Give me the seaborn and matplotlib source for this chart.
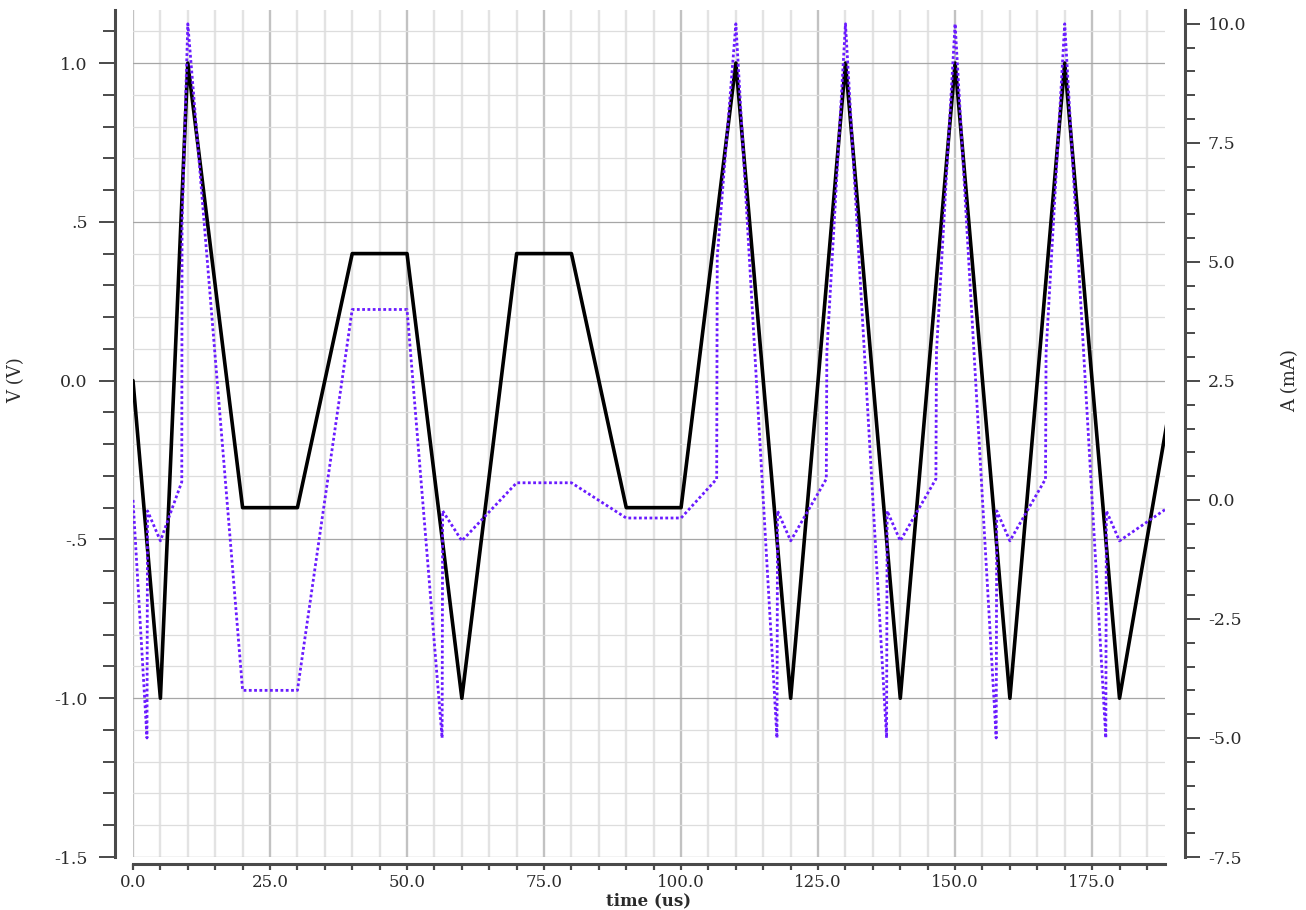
import matplotlib
matplotlib.use("Agg")
import matplotlib.pyplot as plt
from matplotlib.ticker import FixedLocator, FixedFormatter, MultipleLocator
import seaborn as sns

# Applied voltage across the device (V) versus time (us)
time_v = [0, 5, 10, 20, 30, 40, 50, 60, 70, 80, 90, 100,
          110, 120, 130, 140, 150, 160, 170, 180, 190]
volts = [0.0, -1.0, 1.0, -0.4, -0.4, 0.4, 0.4, -1.0, 0.4, 0.4, -0.4, -0.4,
         1.0, -1.0, 1.0, -1.0, 1.0, -1.0, 1.0, -1.0, 0.0]

# Device current (mA) versus time (us)
time_i = [0, 2.55, 2.65, 5, 8.9, 8.95, 10, 20, 30, 40, 50, 56.4, 56.5, 60,
          70, 80, 90, 100, 106.5, 106.6, 110, 117.5, 117.6, 120,
          126.5, 126.6, 130, 137.5, 137.6, 140,
          146.5, 146.6, 150, 157.5, 157.6, 160,
          166.5, 166.6, 170, 177.5, 177.6, 180, 190]
current_ma = [0.0, -5.0, -0.23, -0.86, 0.38, 5.8, 10.0, -4.0, -4.0, 4.0, 4.0, -5.0, -0.23, -0.86,
              0.36, 0.36, -0.38, -0.38, 0.44, 5.1, 10.0, -5.0, -0.23, -0.86,
              0.44, 3.1, 10.0, -5.0, -0.23, -0.86,
              0.44, 3.1, 10.0, -5.0, -0.23, -0.86,
              0.44, 3.1, 10.0, -5.0, -0.23, -0.86, -0.07]

x_ticks = [0, 25, 50, 75, 100, 125, 150, 175]
x_tick_labels = ["0.0", "25.0", "50.0", "75.0", "100.0", "125.0", "150.0", "175.0"]
v_ticks = [1.0, 0.5, 0.0, -0.5, -1.0, -1.5]
v_tick_labels = ["1.0", ".5", "0.0", "-.5", "-1.0", "-1.5"]
i_ticks = [10.0, 7.5, 5.0, 2.5, 0.0, -2.5, -5.0, -7.5]
i_tick_labels = ["10.0", "7.5", "5.0", "2.5", "0.0", "-2.5", "-5.0", "-7.5"]

sns.set_theme(style="ticks")
plt.rcParams["font.family"] = ["DejaVu Serif"]

W, H = 1306, 910
fig = plt.figure(figsize=(W / 100, H / 100), dpi=100)
ax = fig.add_axes([133 / W, 1 - 857 / H, 1032 / W, 847 / H])
ax2 = ax.twinx()

sns.lineplot(x=time_v, y=volts, ax=ax, color="black", linewidth=2.6,
             estimator=None, sort=False)
sns.lineplot(x=time_i, y=current_ma, ax=ax2, color="#6a1bff", linewidth=2.0,
             linestyle=(0, (1, 0.9)), estimator=None, sort=False)

ax.set_xlim(0, 188.3)
ax.set_ylim(-1.5, 1.167)
ax2.set_ylim(-7.5, 10.29)

spine_col = "#4a4a4a"
label_col = "#2b2b2b"

# x axis
ax.xaxis.set_major_locator(FixedLocator(x_ticks))
ax.xaxis.set_major_formatter(FixedFormatter(x_tick_labels))
ax.xaxis.set_minor_locator(MultipleLocator(5))
# left voltage axis
ax.yaxis.set_major_locator(FixedLocator(v_ticks))
ax.yaxis.set_major_formatter(FixedFormatter(v_tick_labels))
ax.yaxis.set_minor_locator(MultipleLocator(0.1))
# right current axis
ax2.yaxis.set_major_locator(FixedLocator(i_ticks))
ax2.yaxis.set_major_formatter(FixedFormatter(i_tick_labels))
ax2.yaxis.set_minor_locator(MultipleLocator(0.5))

ax.set_axisbelow(True)
ax.grid(which="major", axis="x", color="#c2c2c2", linewidth=1.7)
ax.grid(which="minor", axis="x", color="#e3e3e3", linewidth=1.7)
ax.grid(which="major", axis="y", color="#a6a6a6", linewidth=0.9)
ax.grid(which="minor", axis="y", color="#dddddd", linewidth=0.9)
ax2.grid(False)

ax.tick_params(axis="y", which="major", direction="out", length=11.5, width=1.4,
               color=spine_col, pad=8, labelsize=12.5, labelcolor=label_col, left=True)
ax.tick_params(axis="y", which="minor", direction="out", length=8.5, width=1.4,
               color=spine_col, left=True)
ax.tick_params(axis="x", which="both", direction="out", length=4.5, width=1.6,
               color=spine_col, pad=3, labelsize=12, labelcolor=label_col, bottom=True)
ax2.tick_params(axis="y", which="major", direction="out", length=10.5, width=1.4,
                color=spine_col, pad=6, labelsize=12.5, labelcolor=label_col, right=True)
ax2.tick_params(axis="y", which="minor", direction="out", length=7.5, width=1.4,
                color=spine_col, right=True)

for name in ["top", "right"]:
    ax.spines[name].set_visible(False)
for name in ["top", "left", "bottom"]:
    ax2.spines[name].set_visible(False)
ax.spines["left"].set_position(("outward", 13))
ax.spines["bottom"].set_position(("outward", 5))
ax2.spines["right"].set_position(("outward", 14.4))
for sp in [ax.spines["left"], ax.spines["bottom"], ax2.spines["right"]]:
    sp.set_color(spine_col)
    sp.set_linewidth(2.2)

ax.set_xlabel("time (us)", fontsize=12, fontweight="bold", color=label_col)
ax.xaxis.set_label_coords(0.5, -0.042)
ax.set_ylabel("V (V)", fontsize=13, color=label_col)
ax.yaxis.set_label_coords(-0.1047, 0.563)
ax2.set_ylabel("A (mA)", fontsize=13, color=label_col)
ax2.yaxis.set_label_coords(1.113, 0.563)

fig.savefig("out.png", dpi=100)
